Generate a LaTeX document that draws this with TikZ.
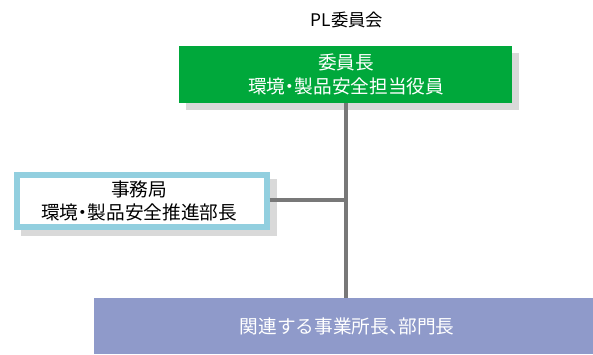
\documentclass[tikz,border=0pt]{standalone}
\usepackage{fontspec}
\newfontfamily\jp{Noto Sans CJK JP}
\newcommand{\hw}[1]{{\addfontfeature{RawFeature=+halt}#1}}
\definecolor{kgreen}{HTML}{00A83B}
\definecolor{kblue}{HTML}{92CFDF}
\definecolor{kpurple}{HTML}{8F9ACA}
\definecolor{kshadow}{HTML}{D9D9D9}
\definecolor{kline}{HTML}{787878}
\begin{document}
\begin{tikzpicture}[x=0.75pt,y=-0.75pt,
  txt/.style={font=\jp\fontsize{14}{17.5}\selectfont, align=center, inner sep=0pt},
  conn/.style={draw=kline, line width=3pt}]
\useasboundingbox (0,0) rectangle (593,354);
% title
\node[txt, font=\jp\fontsize{13}{15}\selectfont] (title) at (347,20) {PL委員会};
% shadows
\fill[kshadow] (186,53) rectangle (519,110);
\fill[kshadow] (21,179) rectangle (277,236);
% connectors
\coordinate (j) at (346,200);
% green box
\fill[kgreen] (179,46) rectangle (512,103);
\node[txt, text=white] (chair) at (346,74.5) {委員長\\環境\hw{・}製品安全担当役員};
% bottom box
\fill[kpurple] (94,298) rectangle (593,354);
\node[txt, text=white] (dept) at (347,326) {関連する事業所長\hw{、}部門長};
% secretariat
\fill[white, draw=kblue, line width=4.5pt] (17,175) rectangle (267,227);
\node[txt] (sec) at (139,201) {事務局\\環境\hw{・}製品安全推進部長};
\draw[conn] (346,103) -- (346,298);
\draw[conn] (269.5,200) -- (j);
\end{tikzpicture}
\end{document}
